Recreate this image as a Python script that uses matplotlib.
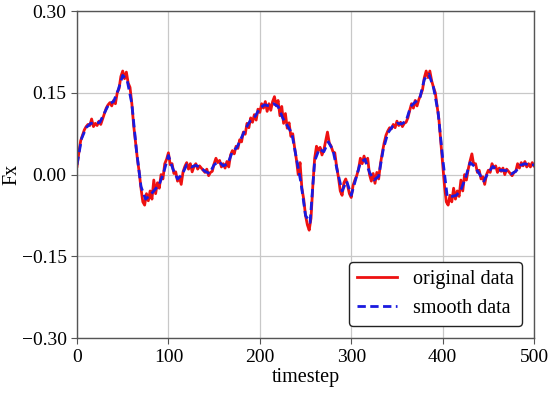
import numpy as np
import matplotlib
matplotlib.use("Agg")
import matplotlib.pyplot as plt

# original data, every 2 timesteps (0..500)
original = [
    0.015, 0.040, 0.062, 0.072, 0.082, 0.088, 0.092, 0.090, 0.102, 0.088,
    0.094, 0.090, 0.098, 0.092, 0.102, 0.112, 0.122, 0.128, 0.132, 0.126,
    0.136, 0.130, 0.150, 0.158, 0.180, 0.190, 0.176, 0.188, 0.168, 0.160,
    0.130, 0.090, 0.060, 0.030, 0.005, -0.025, -0.050, -0.056, -0.035, -0.048,
    -0.030, -0.045, -0.010, -0.035, -0.015, -0.025, 0.000, -0.008, 0.020, 0.028,
    0.040, 0.018, 0.020, 0.002, 0.005, -0.012, -0.005, -0.018, 0.005, 0.015,
    0.022, 0.010, 0.020, 0.005, 0.015, 0.020, 0.010, 0.016, 0.012, 0.008,
    0.004, 0.010, -0.002, 0.004, 0.006, 0.020, 0.030, 0.022, 0.026, 0.014,
    0.020, 0.012, 0.024, 0.014, 0.036, 0.044, 0.038, 0.052, 0.048, 0.064,
    0.060, 0.078, 0.074, 0.094, 0.086, 0.104, 0.096, 0.110, 0.100, 0.120,
    0.114, 0.130, 0.122, 0.134, 0.116, 0.130, 0.118, 0.134, 0.143, 0.126,
    0.136, 0.108, 0.125, 0.094, 0.112, 0.085, 0.095, 0.070, 0.075, 0.050,
    0.028, 0.000, 0.022, -0.025, -0.045, -0.075, -0.092, -0.102, -0.080, -0.020,
    0.030, 0.052, 0.044, 0.050, 0.036, 0.045, 0.062, 0.078, 0.058, 0.052,
    0.042, 0.040, 0.015, -0.005, -0.030, -0.038, -0.015, -0.008, -0.020, -0.035,
    -0.042, -0.020, -0.010, -0.002, 0.010, 0.030, 0.020, 0.034, 0.022, 0.030,
    0.000, -0.012, 0.002, -0.016, 0.004, -0.008, 0.020, 0.040, 0.058, 0.072,
    0.080, 0.086, 0.084, 0.092, 0.086, 0.098, 0.090, 0.096, 0.088, 0.094,
    0.096, 0.104, 0.118, 0.130, 0.122, 0.136, 0.126, 0.138, 0.146, 0.156,
    0.178, 0.190, 0.178, 0.190, 0.172, 0.160, 0.150, 0.125, 0.100, 0.060,
    0.020, -0.020, -0.050, -0.056, -0.038, -0.050, -0.025, -0.045, -0.030, -0.040,
    -0.010, -0.030, 0.000, -0.010, 0.010, 0.025, 0.038, 0.018, 0.020, 0.004,
    0.008, -0.008, -0.004, -0.018, 0.000, 0.008, 0.004, 0.020, 0.012, 0.016,
    0.004, 0.012, 0.006, 0.012, 0.000, 0.010, 0.006, 0.002, -0.002, 0.004,
    0.006, 0.020, 0.012, 0.022, 0.016, 0.024, 0.014, 0.020, 0.014, 0.022,
    0.016,
]
original_t = list(range(0, 501, 2))

# smooth data, every 5 timesteps (0..500)
smooth = [
    0.018, 0.066, 0.086, 0.094, 0.094, 0.096, 0.113, 0.130, 0.134, 0.155,
    0.182, 0.172, 0.130, 0.045, -0.022, -0.045, -0.038, -0.028, -0.018, 0.005,
    0.035, 0.010, -0.008, 0.000, 0.018, 0.014, 0.017, 0.013, 0.006, 0.002,
    0.018, 0.024, 0.016, 0.020, 0.042, 0.050, 0.068, 0.086, 0.100, 0.107,
    0.122, 0.128, 0.126, 0.130, 0.125, 0.104, 0.090, 0.076, 0.030, -0.015,
    -0.075, -0.088, 0.025, 0.047, 0.042, 0.060, 0.045, 0.005, -0.030, -0.012,
    -0.038, -0.008, 0.022, 0.028, 0.004, -0.010, -0.003, 0.046, 0.076, 0.088,
    0.094, 0.093, 0.098, 0.125, 0.133, 0.140, 0.175, 0.184, 0.160, 0.115,
    0.030, -0.040, -0.040, -0.038, -0.028, -0.006, 0.022, 0.015, 0.002, -0.012,
    0.004, 0.015, 0.008, 0.008, 0.007, 0.001, 0.006, 0.017, 0.020, 0.017,
    0.018,
]
smooth_t = list(range(0, 501, 5))

xticks = [0, 100, 200, 300, 400, 500]
yticks = [-0.30, -0.15, 0.00, 0.15, 0.30]

plt.rcParams['font.family'] = ['Liberation Serif', 'DejaVu Serif']
plt.rcParams['mathtext.fontset'] = 'stix'

fig = plt.figure(figsize=(5.5, 3.95), dpi=100)
ax = fig.add_axes([0.140, 0.144, 0.831, 0.828])

ax.plot(original_t, original, color='#ee1111', lw=2.0, label='original data')
ax.plot(smooth_t, smooth, color='#1a1adf', lw=2.0, ls='--', dashes=(3, 1.6), label='smooth data')

ax.set_xlim(0, 500)
ax.set_ylim(-0.30, 0.30)
ax.set_xticks(xticks)
ax.set_yticks(yticks)
ax.set_yticklabels([f"{v:.2f}".replace('-', '\u2212') for v in yticks])
ax.tick_params(labelsize=14, direction='out', length=4, color='#555555')
ax.grid(True, color='#c8c8c8', lw=0.9)
for s in ax.spines.values():
    s.set_color('#555555')
    s.set_linewidth(1.0)

ax.set_xlabel('timestep', fontsize=14.5, labelpad=2)
ax.set_ylabel('Fx', fontsize=14.5)
ax.yaxis.set_label_coords(-0.122, 0.5)

leg = ax.legend(loc='lower right', fontsize=14.5, frameon=True, fancybox=True,
                edgecolor='#222222', framealpha=1.0, handlelength=2.0,
                borderaxespad=0.6)
leg.get_frame().set_linewidth(1.0)

fig.savefig('out.png', dpi=100)
